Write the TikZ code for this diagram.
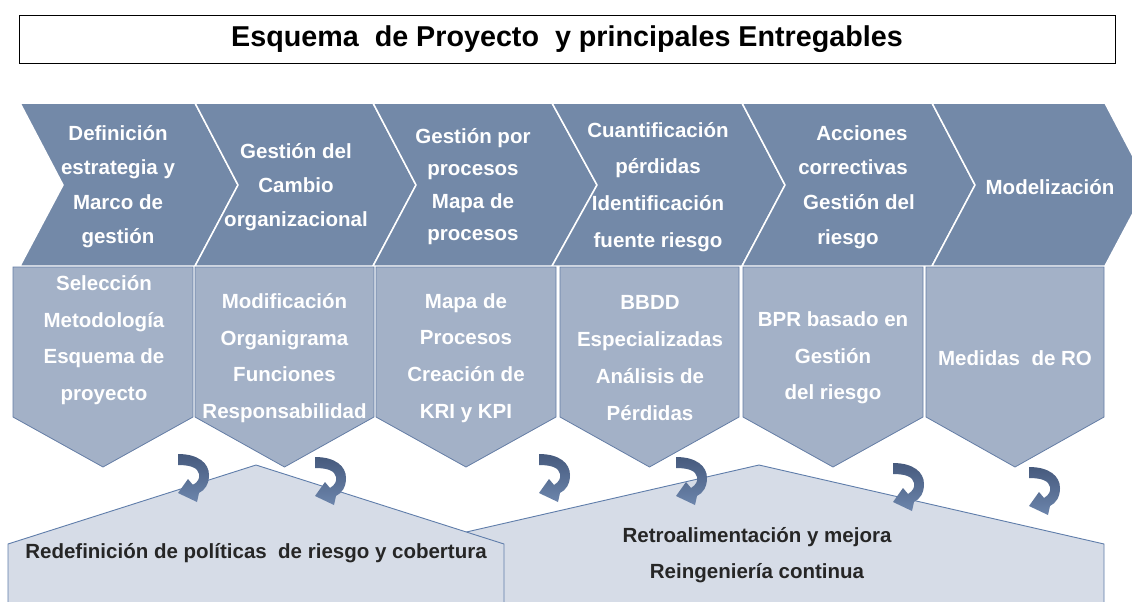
\documentclass[tikz,border=0pt]{standalone}
\usepackage{fontspec}
\setmainfont{Liberation Sans}
\definecolor{chev}{RGB}{115,137,168}
\definecolor{lowfill}{RGB}{163,177,199}
\definecolor{lowline}{RGB}{100,125,165}
\definecolor{basefill}{RGB}{214,220,231}
\definecolor{baseedge}{RGB}{95,125,170}
\definecolor{arrtop}{RGB}{70,90,125}
\definecolor{arrbot}{RGB}{108,133,172}
\definecolor{darktext}{RGB}{38,38,38}
\tikzset{
  chevron/.style={fill=chev, draw=white, line width=1.5pt, line join=miter},
  lowbox/.style={fill=lowfill, draw=lowline, line width=0.8pt},
  basebox/.style={fill=basefill, draw=baseedge, line width=0.9pt},
  titlebox/.style={draw=black, line width=0.8pt, minimum width=1096pt, minimum height=48pt, inner sep=0pt,
    font=\bfseries\fontsize{28.7}{32}\selectfont},
  chevtext/.style={text=white, align=center, inner sep=0pt, font=\bfseries\fontsize{20.5}{#1}\selectfont},
  chevtext/.default=34.5,
  lowtext/.style={text=white, align=center, inner sep=0pt, font=\bfseries\fontsize{20.5}{36.7}\selectfont},
  basetext/.style={text=darktext, align=center, inner sep=0pt, font=\bfseries\fontsize{20.5}{36}\selectfont},
  curl/.pic={\shade[top color=arrtop, bottom color=arrbot]
    (0,0) .. controls (20,0) and (31,9) .. (31,21)
          .. controls (31,30) and (27,36) .. (21,39)
          -- (19,48) -- (0,39) -- (10,25) -- (15,31)
          .. controls (20,28) and (22,24) .. (21,20)
          .. controls (20,14) and (13,11) .. (0,11) -- cycle;}
}
\begin{document}
\begin{tikzpicture}[x=1pt,y=-1pt]
\useasboundingbox (0,0) rectangle (1132,602);
\fill[white] (0,0) rectangle (1132,602);

% title
\node[titlebox] (title) at (567,39) {Esquema\ \ de Proyecto\ \ y principales Entregables};

% chevrons
\path[chevron] (20,103) -- (195,103) -- (238,185) -- (195,266) -- (20,266) -- (63,185) -- cycle;
\path[chevron] (195,103) -- (373,103) -- (416,185) -- (373,266) -- (195,266) -- (238,185) -- cycle;
\path[chevron] (373,103) -- (552,103) -- (597,185) -- (552,266) -- (373,266) -- (416,185) -- cycle;
\path[chevron] (552,103) -- (742,103) -- (785,185) -- (742,266) -- (552,266) -- (597,185) -- cycle;
\path[chevron] (742,103) -- (932,103) -- (975,185) -- (932,266) -- (742,266) -- (785,185) -- cycle;
\path[chevron] (932,103) -- (1105,103) -- (1148,185) -- (1105,266) -- (932,266) -- (975,185) -- cycle;

% lower boxes
\path[lowbox] (13,267) -- (193,267) -- (193,417) -- (103,467) -- (13,417) -- cycle;
\path[lowbox] (195,267) -- (374,267) -- (374,417) -- (284.5,467) -- (195,417) -- cycle;
\path[lowbox] (376,267) -- (556,267) -- (556,417) -- (466,467) -- (376,417) -- cycle;
\path[lowbox] (560,267) -- (739,267) -- (739,417) -- (649.5,467) -- (560,417) -- cycle;
\path[lowbox] (743,267) -- (923,267) -- (923,417) -- (833,467) -- (743,417) -- cycle;
\path[lowbox] (926,267) -- (1104,267) -- (1104,417) -- (1015,467) -- (926,417) -- cycle;

% base shapes
\path[basebox] (414,620) -- (414,544) -- (759,465) -- (1104,544) -- (1104,620);
\path[basebox] (8,620) -- (8,544) -- (256,465) -- (504,544) -- (504,620);

% chevron texts
\node[chevtext] (c1) at (118,186.5) {Definición\\estrategia y\\Marco de\\gestión};
\node[chevtext=34] (c2) at (296,187) {Gestión del\\Cambio\\organizacional};
\node[chevtext=32.5] (c3) at (473,186.5) {Gestión por\\procesos\\Mapa de\\procesos};
\node[chevtext=36.7] (c4) at (658,187) {Cuantificación\\pérdidas\\Identificación\\fuente riesgo};
\node[chevtext=34.7] (c5) at (853,187) {\hspace*{18pt}Acciones\\correctivas\hspace*{10pt}\\\hspace*{12pt}Gestión del\\riesgo\hspace*{10pt}};
\node[chevtext] (c6) at (1050,187) {Modelización};

% lower texts
\node[lowtext] (b1) at (104,340) {Selección\\Metodología\\Esquema de\\proyecto};
\node[lowtext] (b2) at (284.5,358) {Modificación\\Organigrama\\Funciones\\Responsabilidad};
\node[lowtext] (b3) at (466,358) {Mapa de\\Procesos\\Creación de\\KRI y KPI};
\node[lowtext] (b4) at (650,358) {BBDD\\Especializadas\\Análisis de\\Pérdidas};
\node[lowtext] (b5) at (833,358) {BPR basado en\\Gestión\\del riesgo};
\node[lowtext] (b6) at (1015,358) {Medidas\ \ de RO};

% base texts
\node[basetext] (r1) at (256,553) {Redefinición de políticas\ \ de riesgo y cobertura};
\node[basetext] (r2) at (757,555) {Retroalimentación y mejora\\Reingeniería continua};

% curved arrows
\pic at (178,454) {curl};
\pic at (315,457) {curl};
\pic at (539,454) {curl};
\pic at (676,457) {curl};
\pic at (893,463) {curl};
\pic at (1029,467) {curl};
\end{tikzpicture}
\end{document}
